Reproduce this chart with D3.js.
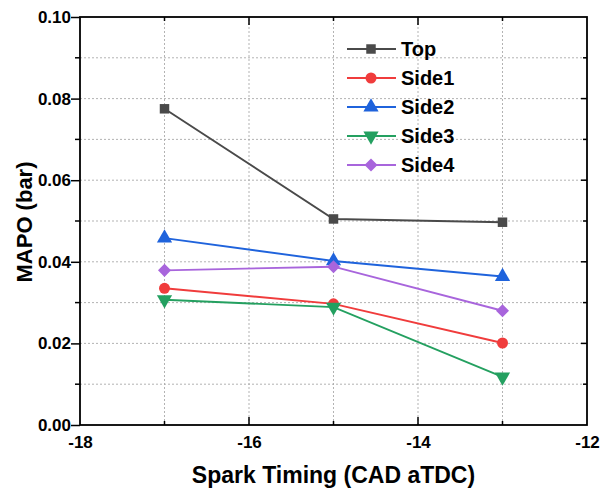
<!DOCTYPE html>
<html>
<head>
<meta charset="utf-8">
<script src="https://cdn.jsdelivr.net/npm/d3@7"></script>
<style>
  body { margin: 0; background: #fff; }
  text { font-family: "Liberation Sans", Arial, sans-serif; font-weight: bold; }
</style>
</head>
<body>
<div class="chart"></div>
<script>
// data
const timing = [-17, -15, -13];
const seriesNames = ["Top", "Side1", "Side2", "Side3", "Side4"];
const top_ = [0.0775, 0.0505, 0.0497];
const side1 = [0.0335, 0.0297, 0.0201];
const side2 = [0.0458, 0.0402, 0.0364];
const side3 = [0.0307, 0.0289, 0.0118];
const side4 = [0.0379, 0.0388, 0.0280];
const xTicks = [-18, -16, -14, -12];
const yTicks = [0.00, 0.02, 0.04, 0.06, 0.08, 0.10];

const colors = ["#4a4a4a", "#f03c3c", "#1f63dc", "#24a060", "#a865dc"];
const shapes = ["square", "circle", "up", "down", "diamond"];
const allValues = [top_, side1, side2, side3, side4];

const width = 600, height = 489;
const margin = {top: 17, left: 80, right: 13, bottom: 64};

const svg = d3.select('.chart').append('svg')
    .attr('width', width)
    .attr('height', height);

const xScale = d3.scaleLinear().domain([-18, -12]).range([margin.left, width - margin.right]);
const yScale = d3.scaleLinear().domain([0, 0.10]).range([height - margin.bottom, margin.top]);

const x0 = xScale.range()[0], x1 = xScale.range()[1];
const y0 = yScale.range()[0], y1 = yScale.range()[1];

// grid, every 1 on x and every 0.01 on y
const gridX = d3.range(-17, -12, 1);
const gridY = d3.range(0.01, 0.1, 0.01);
svg.append('g').selectAll('line').data(gridX).enter().append('line')
    .attr('x1', d => xScale(d)).attr('x2', d => xScale(d))
    .attr('y1', y0).attr('y2', y1)
    .attr('stroke', '#aaa').attr('stroke-width', 0.9).attr('stroke-dasharray', '2,2');
svg.append('g').selectAll('line').data(gridY).enter().append('line')
    .attr('y1', d => yScale(d)).attr('y2', d => yScale(d))
    .attr('x1', x0).attr('x2', x1)
    .attr('stroke', '#aaa').attr('stroke-width', 0.9).attr('stroke-dasharray', '2,2');

// axes
const xAxis = d3.axisBottom(xScale).tickValues(xTicks).tickFormat(d => String(d)).tickSize(0).tickPadding(11);
const yAxis = d3.axisLeft(yScale).tickValues(yTicks).tickFormat(d3.format('.2f')).tickSize(9).tickPadding(0);

const gx = svg.append('g').attr('transform', `translate(0,${y0})`).call(xAxis);
gx.select('.domain').remove();
gx.selectAll('text').attr('font-size', 17).attr('fill', '#000')
    .style('font-family', '"Liberation Sans", Arial, sans-serif').style('font-weight', 'bold');

const gy = svg.append('g').attr('transform', `translate(${x0},0)`).call(yAxis);
gy.select('.domain').remove();
gy.selectAll('line').attr('stroke-width', 1.5);
gy.selectAll('text').attr('font-size', 17).attr('fill', '#000')
    .style('font-family', '"Liberation Sans", Arial, sans-serif').style('font-weight', 'bold');

// minor y ticks on left (outward), and inward ticks on right / top / bottom
const minorY = d3.range(0.01, 0.1, 0.02);
svg.append('g').selectAll('line').data(minorY).enter().append('line')
    .attr('x1', x0 - 5).attr('x2', x0)
    .attr('y1', d => yScale(d)).attr('y2', d => yScale(d))
    .attr('stroke', '#000').attr('stroke-width', 1.5);
svg.append('g').selectAll('line').data(d3.range(0.01, 0.1, 0.01)).enter().append('line')
    .attr('x2', x1)
    .attr('y1', d => yScale(d)).attr('y2', d => yScale(d))
    .attr('stroke', '#000').attr('stroke-width', 1.5)
    .attr('x1', (d, i) => x1 - (i % 2 ? 6 : 4));
const allX = d3.range(-17, -12, 1);
[y0, y1].forEach((yy, k) => {
    svg.append('g').selectAll('line').data(allX).enter().append('line')
        .attr('x1', d => xScale(d)).attr('x2', d => xScale(d))
        .attr('y1', yy)
        .attr('y2', (d, i) => k === 0 ? yy - (i % 2 ? 8 : 4) : yy + (i % 2 ? 8 : 4))
        .attr('stroke', '#000').attr('stroke-width', 1.5);
});

// frame
svg.append('rect')
    .attr('x', x0).attr('y', y1)
    .attr('width', x1 - x0).attr('height', y0 - y1)
    .attr('fill', 'none').attr('stroke', '#000').attr('stroke-width', 1.8);

// marker shapes
function symbolPath(shape) {
    if (shape === "square") return d3.symbol().type(d3.symbolSquare).size(90)();
    if (shape === "circle") return d3.symbol().type(d3.symbolCircle).size(95)();
    if (shape === "diamond") return d3.symbol().type(d3.symbolSquare).size(85)();
    return d3.symbol().type(d3.symbolTriangle).size(100)();
}
function symbolRot(shape) {
    if (shape === "down") return ' rotate(180)';
    if (shape === "diamond") return ' rotate(45)';
    return '';
}

// series
allValues.forEach((vals, s) => {
    const pts = timing.map((t, i) => [t, vals[i]]);
    svg.append('path')
        .datum(pts)
        .attr('d', d3.line().x(d => xScale(d[0])).y(d => yScale(d[1])))
        .attr('fill', 'none')
        .attr('stroke', colors[s])
        .attr('stroke-width', 1.9);
    svg.append('g').selectAll('path').data(pts).enter().append('path')
        .attr('d', symbolPath(shapes[s]))
        .attr('transform', d => `translate(${xScale(d[0])},${yScale(d[1])})` + symbolRot(shapes[s]))
        .attr('fill', colors[s]);
});

// y axis label
svg.append('text')
    .attr('transform', `translate(32,222) rotate(-90)`)
    .attr('text-anchor', 'middle')
    .attr('font-size', 22)
    .text('MAPO (bar)');

// x axis label
svg.append('text')
    .attr('x', (x0 + x1) / 2)
    .attr('y', 483)
    .attr('text-anchor', 'middle')
    .attr('font-size', 23)
    .text('Spark Timing (CAD aTDC)');

// legend
const legend = svg.append('g');
seriesNames.forEach((name, s) => {
    const ly = 49 + s * 29;
    legend.append('line')
        .attr('x1', 347).attr('x2', 396)
        .attr('y1', ly).attr('y2', ly)
        .attr('stroke', colors[s]).attr('stroke-width', 1.9);
    legend.append('path')
        .attr('d', symbolPath(shapes[s]))
        .attr('transform', `translate(371,${ly})` + symbolRot(shapes[s]))
        .attr('fill', colors[s]);
    legend.append('text')
        .attr('x', 401).attr('y', ly + 7)
        .attr('font-size', 20)
        .text(name);
});
</script>
</body>
</html>
